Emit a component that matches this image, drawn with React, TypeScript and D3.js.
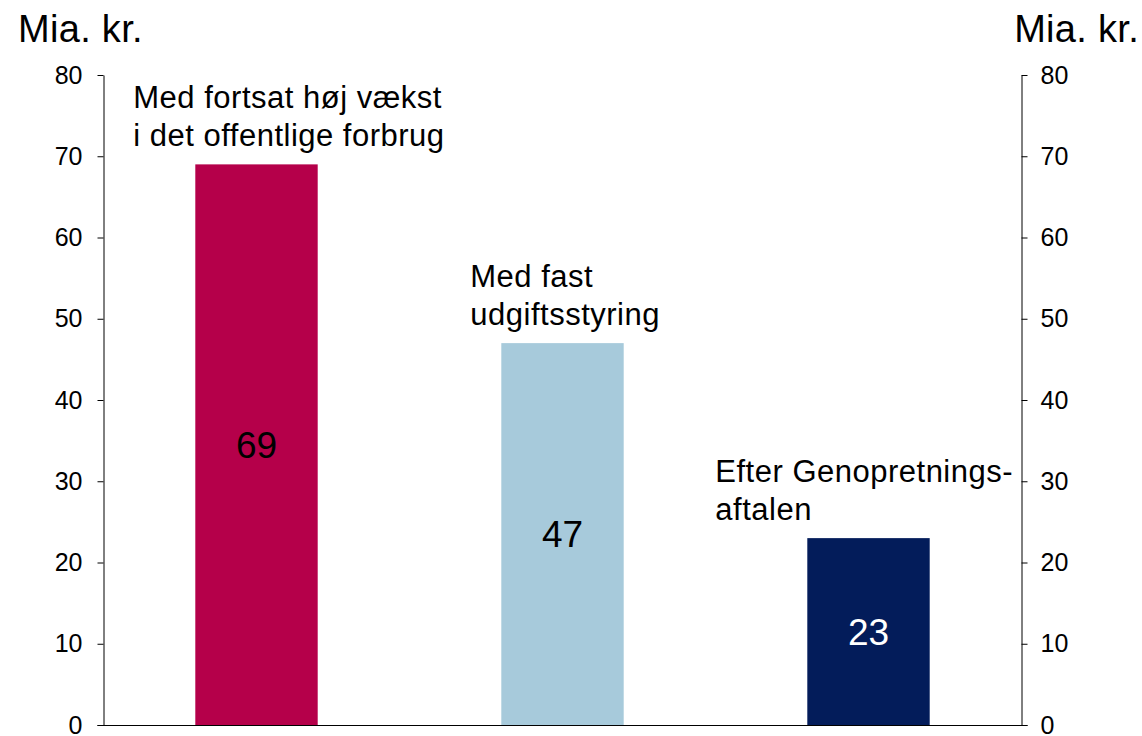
import React, { useEffect, useRef } from 'react';
import * as d3 from 'd3';

const categories = ['fortsat', 'fast', 'genopretning'];
const values = [69, 47, 23];
const labelLines = [
  ['Med fortsat høj vækst', 'i det offentlige forbrug'],
  ['Med fast', 'udgiftsstyring'],
  ['Efter Genopretnings-', 'aftalen'],
];
const yTicks = [0, 10, 20, 30, 40, 50, 60, 70, 80];
const unitLabel = 'Mia. kr.';

const barColors = ['#B5004A', '#A7CADB', '#031C5A'];
const valueColors = ['#000000', '#000000', '#ffffff'];
const labelDx = [-62, -31, -92];

const W = 1142;
const H = 736;
const FONT = '"Liberation Sans", Arial, sans-serif';

export default function App() {
  const ref = useRef<SVGSVGElement>(null);

  useEffect(() => {
    const svg = d3.select(ref.current);
    svg.selectAll('*').remove();

    const left = 103.5;
    const right = 1021.5;
    const y = d3.scaleLinear().domain([0, 80]).range([725, 75]);
    const x = d3.scaleBand<string>()
      .domain(categories)
      .range([left, right])
      .paddingInner(0.6)
      .paddingOuter(0.3);

    // bars
    svg.append('g')
      .selectAll('rect')
      .data(values)
      .join('rect')
      .attr('x', (d, i) => x(categories[i])!)
      .attr('y', d => y(d))
      .attr('width', x.bandwidth())
      .attr('height', d => y(0) - y(d))
      .attr('fill', (d, i) => barColors[i]);

    // value labels in bars
    svg.append('g')
      .selectAll('text')
      .data(values)
      .join('text')
      .attr('x', (d, i) => x(categories[i])! + x.bandwidth() / 2)
      .attr('y', d => (y(d) + y(0)) / 2)
      .attr('dy', '0.36em')
      .attr('text-anchor', 'middle')
      .attr('font-family', FONT)
      .attr('font-size', 37)
      .attr('fill', (d, i) => valueColors[i])
      .text(d => d);

    // category labels above bars
    const lbl = svg.append('g')
      .selectAll('text')
      .data(values)
      .join('text')
      .attr('font-family', FONT)
      .attr('font-size', 31)
      .attr('letter-spacing', 0.5)
      .attr('fill', '#000');
    lbl.each(function (d, i) {
      const t = d3.select(this);
      const x0 = x(categories[i])! + labelDx[i];
      const base = y(d) - 18;
      const lines = labelLines[i];
      lines.forEach((line, j) => {
        t.append('tspan')
          .attr('x', x0)
          .attr('y', base - (lines.length - 1 - j) * 38)
          .text(line);
      });
    });

    // axes
    const axisL = d3.axisLeft(y).tickValues(yTicks).tickSize(6).tickSizeOuter(0).tickPadding(15);
    const axisR = d3.axisRight(y).tickValues(yTicks).tickSize(6).tickSizeOuter(0).tickPadding(13);

    const gl = svg.append('g').attr('transform', `translate(${left},0)`).call(axisL);
    const gr = svg.append('g').attr('transform', `translate(${right},0)`).call(axisR);
    [gl, gr].forEach(g => {
      g.selectAll('text').attr('font-family', FONT).attr('font-size', 25).attr('fill', '#000');
      g.selectAll('line').attr('stroke', '#000');
      g.select('.domain').attr('stroke', '#000');
    });

    // baseline
    svg.append('line')
      .attr('x1', left - 6)
      .attr('x2', right + 6)
      .attr('y1', Math.round(y(0)) + 0.5)
      .attr('y2', Math.round(y(0)) + 0.5)
      .attr('stroke', '#000');

    // unit titles
    svg.append('text')
      .attr('x', 18)
      .attr('y', 42)
      .attr('font-family', FONT)
      .attr('font-size', 38)
      .attr('letter-spacing', 0.3)
      .text(unitLabel);
    svg.append('text')
      .attr('x', 1139)
      .attr('y', 42)
      .attr('text-anchor', 'end')
      .attr('font-family', FONT)
      .attr('font-size', 38)
      .attr('letter-spacing', 0.3)
      .text(unitLabel);
  }, []);

  return (
    <svg
      ref={ref}
      width={W}
      height={H}
      style={{ position: 'absolute', left: 0, top: 0, background: '#fff' }}
    />
  );
}
